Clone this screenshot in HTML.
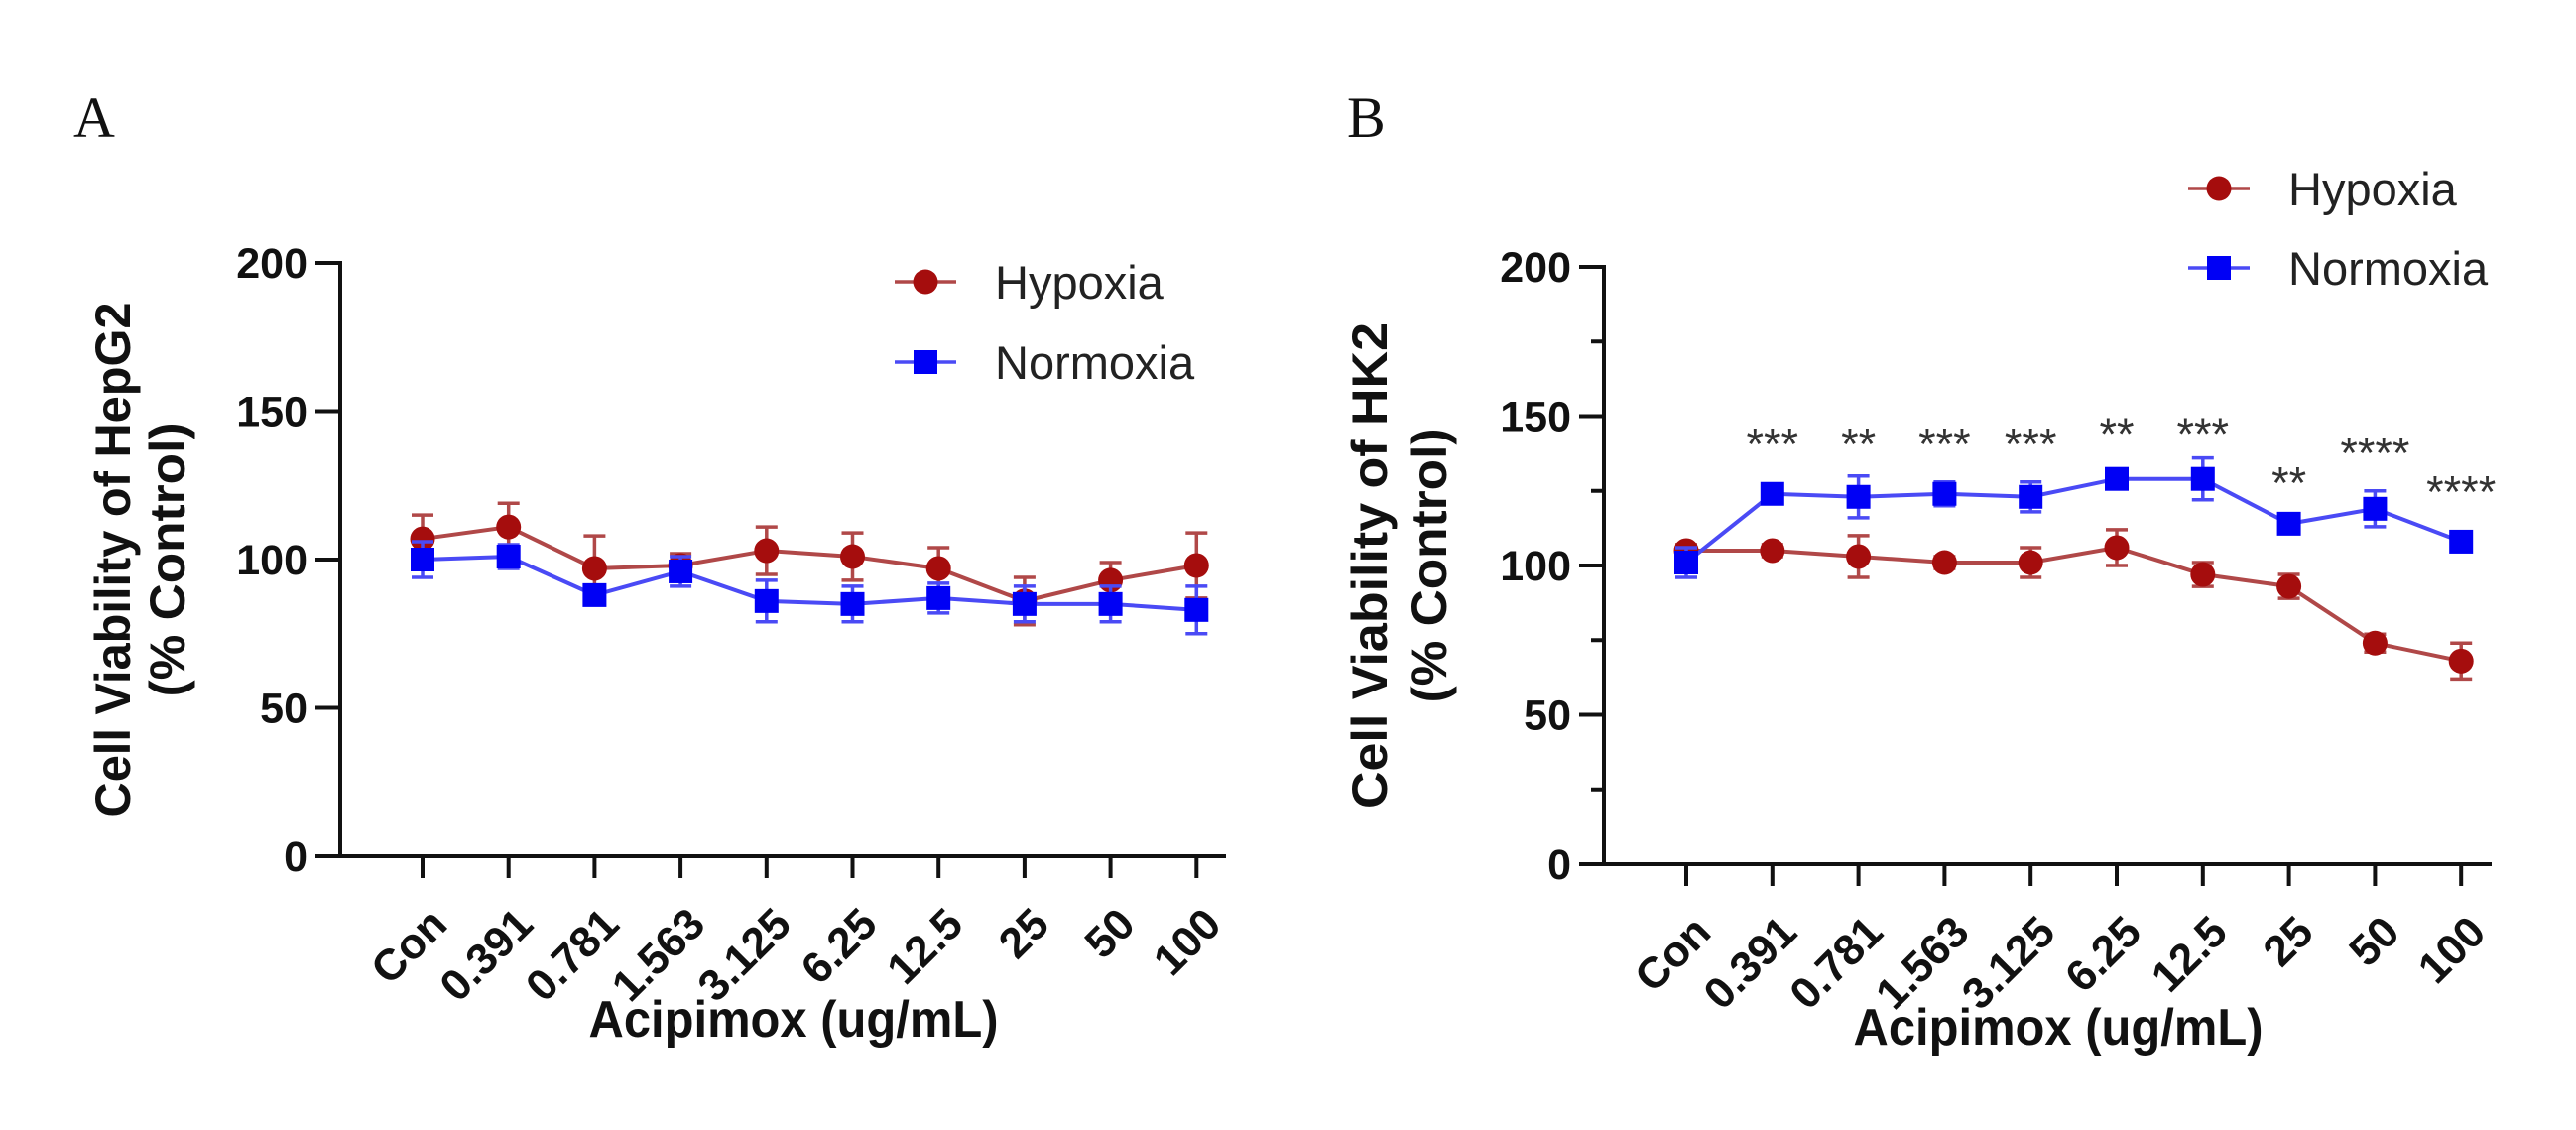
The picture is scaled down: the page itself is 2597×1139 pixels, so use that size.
<!DOCTYPE html>
<html><head><meta charset="utf-8"><style>
html,body{margin:0;padding:0;background:#fff;}
svg{display:block;}
text{font-family:"Liberation Sans",Arial,sans-serif;}
</style></head><body>
<svg id="fig" width="2597" height="1139" viewBox="0 0 2597 1139" xmlns="http://www.w3.org/2000/svg">
<text x="74" y="138" style="font-family:'Liberation Serif',serif" font-size="58" fill="#111">A</text>
<text x="1358" y="138" style="font-family:'Liberation Serif',serif" font-size="58" fill="#111">B</text>
</svg>
<script>
const categories = ["Con","0.391","0.781","1.563","3.125","6.25","12.5","25","50","100"];
const yTicks = [0,50,100,150,200];
const aHypoxia = [107,111,97,98,103,101,97,86,93,98];
const aHypoxiaErr = [8,8,11,4,8,8,7,8,6,11];
const aNormoxia = [100,101,88,96,86,85,87,85,85,83];
const aNormoxiaErr = [6,4,3,5,7,6,5,6,6,8];
const bHypoxia = [105,105,103,101,101,106,97,93,74,68];
const bHypoxiaErr = [2,2,7,2,5,6,4,4,3,6];
const bNormoxia = [101,124,123,124,123,129,129,114,119,108];
const bNormoxiaErr = [5,3,7,4,5,2,7,2,6,3];
const bStars = ["","***","**","***","***","**","***","**","****","****"];
const bStarLevels = [0,144,144,144,144,147.5,147.5,131,141,128];

const NS = "http://www.w3.org/2000/svg";
const svg = document.getElementById("fig");
function mk(tag, attrs, parent){
  const e = document.createElementNS(NS, tag);
  for (const k in attrs) e.setAttribute(k, attrs[k]);
  (parent||svg).appendChild(e);
  return e;
}
const RED = "#a50d0d", REDL = "#b04848", BLUE = "#0000f5", BLUEL = "#4a4af5";

function panel(cfg){
  const g = mk("g", {});
  
  
  const X0 = cfg.axisX, Y0 = cfg.y0, Y200 = cfg.y200;
  const yS = v => Y0 - (v/200)*(Y0-Y200);
  const xS = i => cfg.x0 + i*cfg.dx;
  const ya = mk("line",{x1:X0,y1:Y200-2,x2:X0,y2:Y0+2,stroke:"#111","stroke-width":4},g);
  
  
  const xa = mk("line",{x1:X0-24,y1:Y0,x2:cfg.axisEnd,y2:Y0,stroke:"#111","stroke-width":4},g);
  
  
  yTicks.forEach(t=>{
    const y = yS(t);
    const tk = mk("line",{x1:X0-25,y1:y,x2:X0,y2:y,stroke:"#111","stroke-width":4},g);
    
    
    const tl = mk("text",{x:X0-33,y:y+15,"text-anchor":"end","font-size":43,"font-weight":"bold",fill:"#111"},g);
    tl.textContent = t;
    
    
  });
  if (cfg.minor){
    [25,75,125,175].forEach(t=>{
      const y=yS(t);
      const mt = mk("line",{x1:X0-13,y1:y,x2:X0,y2:y,stroke:"#111","stroke-width":4},g);
      
      
    });
  }
  categories.forEach((c,i)=>{
    const x = xS(i);
    const tk = mk("line",{x1:x,y1:Y0,x2:x,y2:Y0+22,stroke:"#111","stroke-width":4},g);
    
    
    const ax = x+27, ay = Y0+71;
    const tl = mk("text",{x:ax,y:ay,"text-anchor":"end","font-size":44,"font-weight":"bold",fill:"#111",transform:`rotate(-45 ${ax} ${ay})`},g);
    tl.textContent = c;
    
    
  });
  const xt = mk("text",{x:cfg.xTitleX,y:cfg.xTitleY,"text-anchor":"middle","font-size":52,"font-weight":"bold",fill:"#111",textLength:413,lengthAdjust:"spacingAndGlyphs"},g);
  xt.textContent = "Acipimox (ug/mL)";
  
  
  const cy = (Y0+Y200)/2;
  const t1 = mk("text",{x:cfg.t1x,y:cy,"text-anchor":"middle","font-size":50,"font-weight":"bold",fill:"#111",transform:`rotate(-90 ${cfg.t1x} ${cy})`,textLength:cfg.t1len,lengthAdjust:"spacingAndGlyphs"},g);
  t1.textContent = cfg.title;
  
  
  const t2 = mk("text",{x:cfg.t2x,y:cy,"text-anchor":"middle","font-size":50,"font-weight":"bold",fill:"#111",transform:`rotate(-90 ${cfg.t2x} ${cy})`,textLength:277,lengthAdjust:"spacingAndGlyphs"},g);
  t2.textContent = "(% Control)";
  
  

  function series(vals, errs, lineCol, markCol, shape, nm){
    const sg = mk("g",{},g);
    
    
    const pts = vals.map((v,i)=>xS(i)+","+yS(v)).join(" ");
    const pl = mk("polyline",{points:pts,fill:"none",stroke:lineCol,"stroke-width":4},sg);
    
    
    vals.forEach((v,i)=>{
      const x=xS(i), yt=yS(v+errs[i]), yb=yS(v-errs[i]);
      const eb = mk("path",{d:`M${x},${yt}V${yb}M${x-11},${yt}H${x+11}M${x-11},${yb}H${x+11}`,stroke:lineCol,"stroke-width":3.5,fill:"none"},sg);
      
      
    });
    vals.forEach((v,i)=>{
      const x=xS(i), y=yS(v);
      let m;
      if (shape==="circle") m = mk("circle",{cx:x,cy:y,r:12.5,fill:markCol},sg);
      else m = mk("rect",{x:x-12,y:y-12,width:24,height:24,fill:markCol},sg);
      
      
    });
  }
  cfg.series.forEach(s=>series(s.v,s.e,s.lc,s.mc,s.shape,s.nm));

  if (cfg.stars){
    cfg.stars.forEach((s,i)=>{
      if(!s) return;
      const st = mk("text",{x:xS(i),y:yS(bStarLevels[i])+26,"text-anchor":"middle","font-size":45,fill:"#333"},g);
      st.textContent = s;
      
      
    });
  }
  const L = cfg.legend;
  [["Hypoxia",REDL,RED,"circle",L.y1],["Normoxia",BLUEL,BLUE,"square",L.y2]].forEach(e=>{
    const lg = mk("g",{},g);
    
    
    mk("line",{x1:L.x-31,y1:e[4],x2:L.x+31,y2:e[4],stroke:e[1],"stroke-width":3.5},lg);
    if (e[3]==="circle") mk("circle",{cx:L.x,cy:e[4],r:12.5,fill:e[2]},lg);
    else mk("rect",{x:L.x-12,y:e[4]-12,width:24,height:24,fill:e[2]},lg);
    const tx = mk("text",{x:L.tx,y:e[4]+17,"font-size":47,fill:"#222"},lg);
    tx.textContent = e[0];
    
    
  });
}

panel({name:"chart-a-hepg2", axisX:343, y0:863, y200:265, x0:426, dx:86.7, axisEnd:1236,
  xTitleX:800, xTitleY:1045, t1x:131, t1len:519, t2x:186, title:"Cell Viability of HepG2", minor:false,
  series:[{v:aHypoxia,e:aHypoxiaErr,lc:REDL,mc:RED,shape:"circle",nm:"hypoxia-series"},
          {v:aNormoxia,e:aNormoxiaErr,lc:BLUEL,mc:BLUE,shape:"square",nm:"normoxia-series"}],
  legend:{x:933,tx:1003,y1:284,y2:365}});
panel({name:"chart-b-hk2", axisX:1617, y0:871, y200:269, x0:1700, dx:86.8, axisEnd:2512,
  xTitleX:2075, xTitleY:1053, t1x:1398, t1len:490, t2x:1458, title:"Cell Viability of HK2", minor:true,
  series:[{v:bHypoxia,e:bHypoxiaErr,lc:REDL,mc:RED,shape:"circle",nm:"hypoxia-series"},
          {v:bNormoxia,e:bNormoxiaErr,lc:BLUEL,mc:BLUE,shape:"square",nm:"normoxia-series"}],
  stars:bStars,
  legend:{x:2237,tx:2307,y1:190,y2:270}});
</script>
</body></html>
